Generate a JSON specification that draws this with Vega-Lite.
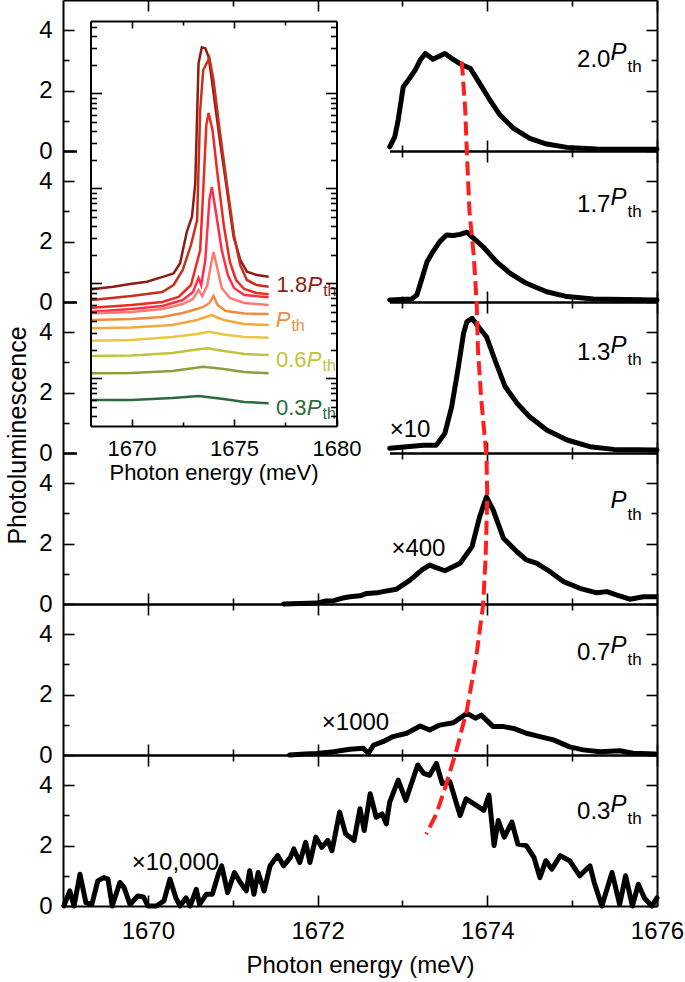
{
"$schema": "https://vega.github.io/schema/vega-lite/v6.json",
"width": 594, "height": 906, "autosize": "none",
"padding": {"left": 63, "top": 0, "right": 28, "bottom": 76},
"background": "white",
"config": {"view": {"stroke": null}, "font": "Liberation Sans",
  "axis": {"labelFont": "Liberation Sans", "titleFont": "Liberation Sans", "labelFontSize": 24, "titleFontSize": 24, "labelColor": "black", "titleColor": "black", "domainColor": "black", "tickColor": "black", "domainWidth": 2, "tickWidth": 1.6, "grid": false, "labelFlush": false, "labelOverlap": false, "titleFontWeight": "normal", "format": "d"}},
"datasets": {
 "mask": [{"x1": 1669.165, "x2": 1672.853, "y1": 13.6, "y2": 29.44}],
 "p20": [{"E":1672.85,"I":0.14},{"E":1672.91,"I":0.47},{"E":1672.95,"I":1.03},{"E":1673.01,"I":2.13},{"E":1673.07,"I":2.35},{"E":1673.15,"I":2.68},{"E":1673.21,"I":3.01},{"E":1673.27,"I":3.23},{"E":1673.36,"I":3.04},{"E":1673.5,"I":3.23},{"E":1673.58,"I":3.07},{"E":1673.7,"I":2.85},{"E":1673.8,"I":2.74},{"E":1673.91,"I":2.24},{"E":1674.03,"I":1.69},{"E":1674.15,"I":1.19},{"E":1674.31,"I":0.75},{"E":1674.5,"I":0.42},{"E":1674.7,"I":0.23},{"E":1674.94,"I":0.12},{"E":1675.29,"I":0.07},{"E":1676,"I":0.06}],
 "p17": [{"E":1672.85,"I":0.07},{"E":1673.11,"I":0.1},{"E":1673.17,"I":0.23},{"E":1673.23,"I":0.78},{"E":1673.29,"I":1.33},{"E":1673.36,"I":1.67},{"E":1673.44,"I":2.0},{"E":1673.52,"I":2.22},{"E":1673.6,"I":2.2},{"E":1673.68,"I":2.24},{"E":1673.76,"I":2.31},{"E":1673.84,"I":2.11},{"E":1673.95,"I":1.83},{"E":1674.11,"I":1.33},{"E":1674.27,"I":0.95},{"E":1674.46,"I":0.62},{"E":1674.7,"I":0.34},{"E":1674.94,"I":0.18},{"E":1675.25,"I":0.1},{"E":1676,"I":0.07}],
 "p13": [{"E":1672.85,"I":0.16},{"E":1673.05,"I":0.21},{"E":1673.25,"I":0.26},{"E":1673.4,"I":0.26},{"E":1673.5,"I":0.65},{"E":1673.58,"I":1.53},{"E":1673.66,"I":2.86},{"E":1673.72,"I":3.96},{"E":1673.76,"I":4.35},{"E":1673.82,"I":4.46},{"E":1673.91,"I":4.13},{"E":1673.99,"I":3.85},{"E":1674.09,"I":3.08},{"E":1674.21,"I":2.2},{"E":1674.35,"I":1.65},{"E":1674.5,"I":1.2},{"E":1674.7,"I":0.76},{"E":1674.94,"I":0.43},{"E":1675.21,"I":0.21},{"E":1675.49,"I":0.12},{"E":1676,"I":0.1}],
 "p10": [{"E":1671.6,"I":0.0},{"E":1671.79,"I":0.02},{"E":1671.99,"I":0.03},{"E":1672.1,"I":0.1},{"E":1672.19,"I":0.11},{"E":1672.3,"I":0.2},{"E":1672.38,"I":0.24},{"E":1672.5,"I":0.27},{"E":1672.58,"I":0.35},{"E":1672.7,"I":0.37},{"E":1672.77,"I":0.41},{"E":1672.93,"I":0.49},{"E":1673.09,"I":0.79},{"E":1673.23,"I":1.13},{"E":1673.32,"I":1.29},{"E":1673.5,"I":1.1},{"E":1673.68,"I":1.35},{"E":1673.82,"I":1.9},{"E":1673.91,"I":2.89},{"E":1673.99,"I":3.55},{"E":1674.07,"I":3.11},{"E":1674.19,"I":2.18},{"E":1674.35,"I":1.73},{"E":1674.46,"I":1.46},{"E":1674.58,"I":1.35},{"E":1674.74,"I":1.07},{"E":1674.9,"I":0.74},{"E":1675.09,"I":0.52},{"E":1675.29,"I":0.37},{"E":1675.41,"I":0.41},{"E":1675.52,"I":0.3},{"E":1675.68,"I":0.16},{"E":1675.84,"I":0.24},{"E":1675.98,"I":0.24}],
 "p07": [{"E":1671.67,"I":0.0},{"E":1671.85,"I":0.03},{"E":1671.99,"I":0.05},{"E":1672.19,"I":0.11},{"E":1672.38,"I":0.19},{"E":1672.54,"I":0.22},{"E":1672.6,"I":0.06},{"E":1672.66,"I":0.33},{"E":1672.77,"I":0.44},{"E":1672.89,"I":0.61},{"E":1673.05,"I":0.72},{"E":1673.21,"I":0.96},{"E":1673.32,"I":0.83},{"E":1673.44,"I":0.99},{"E":1673.6,"I":1.07},{"E":1673.76,"I":1.38},{"E":1673.86,"I":1.22},{"E":1673.93,"I":1.32},{"E":1674.07,"I":0.94},{"E":1674.19,"I":0.94},{"E":1674.31,"I":0.88},{"E":1674.46,"I":0.72},{"E":1674.62,"I":0.61},{"E":1674.78,"I":0.5},{"E":1674.97,"I":0.27},{"E":1675.13,"I":0.17},{"E":1675.33,"I":0.11},{"E":1675.56,"I":0.14},{"E":1675.72,"I":0.06},{"E":1675.98,"I":0.03}],
 "p03": [{"E":1669.01,"I":0},{"E":1669.08,"I":0.5},{"E":1669.13,"I":0},{"E":1669.2,"I":1.05},{"E":1669.27,"I":0.11},{"E":1669.34,"I":0.05},{"E":1669.41,"I":0.83},{"E":1669.48,"I":0.94},{"E":1669.53,"I":0.89},{"E":1669.58,"I":0},{"E":1669.67,"I":0.78},{"E":1669.72,"I":0.61},{"E":1669.79,"I":0.05},{"E":1669.88,"I":0.33},{"E":1669.95,"I":0.3},{"E":1670.0,"I":0},{"E":1670.1,"I":0},{"E":1670.19,"I":0.17},{"E":1670.26,"I":0.89},{"E":1670.33,"I":0.27},{"E":1670.38,"I":0},{"E":1670.45,"I":0.27},{"E":1670.5,"I":0},{"E":1670.57,"I":0.55},{"E":1670.61,"I":0.05},{"E":1670.69,"I":0.39},{"E":1670.76,"I":0.39},{"E":1670.83,"I":1.05},{"E":1670.87,"I":1.33},{"E":1670.94,"I":0.44},{"E":1671.02,"I":1.11},{"E":1671.09,"I":0.78},{"E":1671.16,"I":0.5},{"E":1671.2,"I":1.17},{"E":1671.25,"I":0.39},{"E":1671.3,"I":1.11},{"E":1671.37,"I":0.5},{"E":1671.44,"I":1.33},{"E":1671.53,"I":1.67},{"E":1671.6,"I":1.33},{"E":1671.68,"I":1.61},{"E":1671.72,"I":1.89},{"E":1671.79,"I":1.44},{"E":1671.86,"I":2.11},{"E":1671.91,"I":1.44},{"E":1671.98,"I":2.28},{"E":1672.05,"I":1.94},{"E":1672.12,"I":2.17},{"E":1672.17,"I":1.83},{"E":1672.26,"I":3.11},{"E":1672.33,"I":2.39},{"E":1672.43,"I":2.17},{"E":1672.5,"I":3.22},{"E":1672.55,"I":2.5},{"E":1672.62,"I":3.72},{"E":1672.69,"I":2.94},{"E":1672.76,"I":3.05},{"E":1672.81,"I":2.72},{"E":1672.85,"I":3.44},{"E":1672.95,"I":4.17},{"E":1673.04,"I":3.5},{"E":1673.18,"I":4.67},{"E":1673.25,"I":4.39},{"E":1673.32,"I":4.33},{"E":1673.4,"I":4.72},{"E":1673.47,"I":4.05},{"E":1673.56,"I":4.11},{"E":1673.68,"I":3.0},{"E":1673.75,"I":3.55},{"E":1673.87,"I":3.33},{"E":1673.96,"I":3.17},{"E":1674.02,"I":3.67},{"E":1674.08,"I":2.0},{"E":1674.13,"I":2.83},{"E":1674.2,"I":2.28},{"E":1674.29,"I":2.78},{"E":1674.36,"I":2.05},{"E":1674.46,"I":2.0},{"E":1674.55,"I":1.61},{"E":1674.62,"I":0.94},{"E":1674.69,"I":1.5},{"E":1674.76,"I":1.22},{"E":1674.86,"I":1.67},{"E":1674.97,"I":1.5},{"E":1675.09,"I":1.0},{"E":1675.21,"I":1.33},{"E":1675.26,"I":0.78},{"E":1675.35,"I":0},{"E":1675.47,"I":1.11},{"E":1675.56,"I":0.05},{"E":1675.63,"I":1.0},{"E":1675.71,"I":0},{"E":1675.78,"I":0.72},{"E":1675.85,"I":0.27},{"E":1675.94,"I":0},{"E":1676.0,"I":0.27}],
 "red": [{"E":1673.70,"Y":27.96},{"E":1673.74,"Y":26.36},{"E":1673.76,"Y":24.9},{"E":1673.79,"Y":22.99},{"E":1673.84,"Y":21.56},{"E":1673.875,"Y":19.95},{"E":1673.89,"Y":18.41},{"E":1673.93,"Y":16.75},{"E":1673.99,"Y":14.88},{"E":1674.0,"Y":13.55},{"E":1673.98,"Y":11.5},{"E":1673.95,"Y":9.95},{"E":1673.87,"Y":8.25},{"E":1673.76,"Y":6.49},{"E":1673.64,"Y":5.2},{"E":1673.51,"Y":3.97},{"E":1673.4,"Y":3.05},{"E":1673.28,"Y":2.38}],
 "plabels": [{"panel":1,"pre":"2.0","E":1675.64,"I":3.0},{"panel":2,"pre":"1.7","E":1675.64,"I":3.2},{"panel":3,"pre":"1.3","E":1675.64,"I":3.3},{"panel":4,"pre":"","E":1675.64,"I":3.17},{"panel":5,"pre":"0.7","E":1675.64,"I":3.37},{"panel":6,"pre":"0.3","E":1675.64,"I":3.11}],
 "mult": [{"panel":3,"text":"×10","E":1672.85,"I":0.76},{"panel":4,"text":"×400","E":1672.87,"I":1.81},{"panel":5,"text":"×1000","E":1672.05,"I":1.05},{"panel":6,"text":"×10,000","E":1669.81,"I":1.44}],
 "ilabels": [{"level":"1.8","pre":"1.8","E":1679.3,"L":0.984},{"level":"1.0","pre":"","E":1677.75,"L":0.616},{"level":"0.6","pre":"0.6","E":1679.27,"L":0.195},{"level":"0.3","pre":"0.3","E":1679.27,"L":-0.314}],
 "inset": [
  {"level":"1.8","E":1668.06,"L":0.939},{"level":"1.8","E":1669.11,"L":0.966},{"level":"1.8","E":1669.93,"L":0.995},{"level":"1.8","E":1670.75,"L":1.019},{"level":"1.8","E":1671.56,"L":1.072},{"level":"1.8","E":1672.05,"L":1.107},{"level":"1.8","E":1672.37,"L":1.213},{"level":"1.8","E":1672.7,"L":1.545},{"level":"1.8","E":1672.95,"L":1.703},{"level":"1.8","E":1673.11,"L":2.055},{"level":"1.8","E":1673.27,"L":3.318},{"level":"1.8","E":1673.43,"L":3.486},{"level":"1.8","E":1673.6,"L":3.476},{"level":"1.8","E":1673.76,"L":3.387},{"level":"1.8","E":1673.92,"L":3.142},{"level":"1.8","E":1674.09,"L":2.861},{"level":"1.8","E":1674.33,"L":2.476},{"level":"1.8","E":1674.66,"L":1.984},{"level":"1.8","E":1674.98,"L":1.493},{"level":"1.8","E":1675.31,"L":1.247},{"level":"1.8","E":1675.63,"L":1.124},{"level":"1.8","E":1676.12,"L":1.089},{"level":"1.8","E":1676.69,"L":1.072},
  {"level":"1.7","E":1668.06,"L":0.826},{"level":"1.7","E":1670,"L":0.868},{"level":"1.7","E":1671.5,"L":0.911},{"level":"1.7","E":1672.05,"L":0.984},{"level":"1.7","E":1672.5,"L":1.142},{"level":"1.7","E":1672.9,"L":1.405},{"level":"1.7","E":1673.2,"L":1.668},{"level":"1.7","E":1673.35,"L":2.826},{"level":"1.7","E":1673.5,"L":3.247},{"level":"1.7","E":1673.8,"L":3.374},{"level":"1.7","E":1674.0,"L":3.142},{"level":"1.7","E":1674.3,"L":2.616},{"level":"1.7","E":1674.66,"L":2.037},{"level":"1.7","E":1675.0,"L":1.511},{"level":"1.7","E":1675.3,"L":1.195},{"level":"1.7","E":1675.63,"L":1.037},{"level":"1.7","E":1676.1,"L":0.984},{"level":"1.7","E":1676.69,"L":0.966},
  {"level":"1.5","E":1668.06,"L":0.745},{"level":"1.5","E":1670,"L":0.774},{"level":"1.5","E":1671.5,"L":0.805},{"level":"1.5","E":1672.3,"L":0.858},{"level":"1.5","E":1672.9,"L":0.984},{"level":"1.5","E":1673.2,"L":1.226},{"level":"1.5","E":1673.35,"L":1.353},{"level":"1.5","E":1673.5,"L":1.984},{"level":"1.5","E":1673.65,"L":2.668},{"level":"1.5","E":1673.76,"L":2.795},{"level":"1.5","E":1673.95,"L":2.616},{"level":"1.5","E":1674.2,"L":2.142},{"level":"1.5","E":1674.5,"L":1.616},{"level":"1.5","E":1674.8,"L":1.226},{"level":"1.5","E":1675.1,"L":1.037},{"level":"1.5","E":1675.5,"L":0.942},{"level":"1.5","E":1676.1,"L":0.9},{"level":"1.5","E":1676.69,"L":0.886},
  {"level":"1.3","E":1668.06,"L":0.703},{"level":"1.3","E":1670,"L":0.732},{"level":"1.3","E":1671.5,"L":0.763},{"level":"1.3","E":1672.5,"L":0.826},{"level":"1.3","E":1673.0,"L":0.911},{"level":"1.3","E":1673.27,"L":1.058},{"level":"1.3","E":1673.4,"L":0.984},{"level":"1.3","E":1673.6,"L":1.247},{"level":"1.3","E":1673.8,"L":1.879},{"level":"1.3","E":1673.92,"L":2.016},{"level":"1.3","E":1674.1,"L":1.774},{"level":"1.3","E":1674.4,"L":1.353},{"level":"1.3","E":1674.7,"L":1.089},{"level":"1.3","E":1675.0,"L":0.953},{"level":"1.3","E":1675.5,"L":0.879},{"level":"1.3","E":1676.69,"L":0.855},
  {"level":"1.1","E":1668.06,"L":0.686},{"level":"1.1","E":1670,"L":0.7},{"level":"1.1","E":1671.5,"L":0.732},{"level":"1.1","E":1672.5,"L":0.784},{"level":"1.1","E":1673.0,"L":0.837},{"level":"1.1","E":1673.27,"L":0.932},{"level":"1.1","E":1673.45,"L":0.868},{"level":"1.1","E":1673.7,"L":0.984},{"level":"1.1","E":1673.9,"L":1.226},{"level":"1.1","E":1674.0,"L":1.332},{"level":"1.1","E":1674.15,"L":1.195},{"level":"1.1","E":1674.4,"L":0.953},{"level":"1.1","E":1674.8,"L":0.847},{"level":"1.1","E":1675.5,"L":0.795},{"level":"1.1","E":1676.69,"L":0.774},
  {"level":"1.0","E":1668.06,"L":0.616},{"level":"1.0","E":1670,"L":0.626},{"level":"1.0","E":1671.5,"L":0.647},{"level":"1.0","E":1672.5,"L":0.689},{"level":"1.0","E":1673.2,"L":0.732},{"level":"1.0","E":1673.5,"L":0.753},{"level":"1.0","E":1673.8,"L":0.795},{"level":"1.0","E":1674.0,"L":0.868},{"level":"1.0","E":1674.2,"L":0.774},{"level":"1.0","E":1674.6,"L":0.711},{"level":"1.0","E":1675.5,"L":0.684},{"level":"1.0","E":1676.69,"L":0.679},
  {"level":"0.85","E":1668.06,"L":0.528},{"level":"0.85","E":1670,"L":0.537},{"level":"0.85","E":1672,"L":0.563},{"level":"0.85","E":1673.2,"L":0.616},{"level":"0.85","E":1673.9,"L":0.668},{"level":"0.85","E":1674.5,"L":0.616},{"level":"0.85","E":1675.5,"L":0.574},{"level":"0.85","E":1676.69,"L":0.563},
  {"level":"0.7","E":1668.06,"L":0.398},{"level":"0.7","E":1670,"L":0.405},{"level":"0.7","E":1672,"L":0.437},{"level":"0.7","E":1673.2,"L":0.468},{"level":"0.7","E":1673.8,"L":0.493},{"level":"0.7","E":1674.5,"L":0.463},{"level":"0.7","E":1675.5,"L":0.437},{"level":"0.7","E":1676.69,"L":0.429},
  {"level":"0.6","E":1668.06,"L":0.237},{"level":"0.6","E":1670,"L":0.242},{"level":"0.6","E":1672,"L":0.268},{"level":"0.6","E":1673,"L":0.3},{"level":"0.6","E":1673.7,"L":0.318},{"level":"0.6","E":1674.5,"L":0.289},{"level":"0.6","E":1675.5,"L":0.258},{"level":"0.6","E":1676.69,"L":0.247},
  {"level":"0.45","E":1668.06,"L":0.055},{"level":"0.45","E":1670,"L":0.058},{"level":"0.45","E":1672,"L":0.079},{"level":"0.45","E":1673.5,"L":0.124},{"level":"0.45","E":1674.5,"L":0.1},{"level":"0.45","E":1675.5,"L":0.068},{"level":"0.45","E":1676.69,"L":0.055},
  {"level":"0.3","E":1668.06,"L":-0.226},{"level":"0.3","E":1670,"L":-0.226},{"level":"0.3","E":1672,"L":-0.205},{"level":"0.3","E":1673.27,"L":-0.184},{"level":"0.3","E":1674.5,"L":-0.216},{"level":"0.3","E":1675.5,"L":-0.247},{"level":"0.3","E":1676.69,"L":-0.261}
 ]
},
"layer": [
 {"data": {"name": "mask"}, "mark": {"type": "rect", "fill": "white", "stroke": null},
  "encoding": {"x": {"field": "x1", "type": "quantitative", "scale": {"domain": [1669, 1676], "nice": false, "zero": false}, "axis": null}, "x2": {"field": "x2"},
   "y": {"field": "y1", "type": "quantitative", "scale": {"domain": [0, 30], "nice": false, "zero": false}, "axis": null}, "y2": {"field": "y2"}}},

 {"data": {"name": "p20"}, "mark": {"type": "line", "color": "black", "strokeWidth": 5, "strokeJoin": "round", "strokeCap": "round"},
  "encoding": {"x": {"field": "E", "type": "quantitative", "scale": {"domain": [1669, 1676], "nice": false, "zero": false}, "axis": {"orient": "bottom", "offset": -755, "values": [1670,1671,1672,1673,1674,1675,1676], "labels": false, "title": null, "tickSize": {"condition": {"test": "datum.value % 2 == 0", "value": -11}, "value": -6}, "zindex": 0}},
   "y": {"field": "I", "type": "quantitative", "scale": {"domain": [0, 5], "range": [151, 0], "nice": false, "zero": false}, "axis": {"orient": "left", "values": [0,1,2,3,4], "labelExpr": "datum.value % 2 == 0 ? datum.label : ''", "labelPadding": 22, "title": null, "tickSize": {"condition": {"test": "datum.value % 2 == 0", "value": -11}, "value": -6}, "zindex": 0}}}},
 {"data": {"name": "p17"}, "mark": {"type": "line", "color": "black", "strokeWidth": 5, "strokeJoin": "round", "strokeCap": "round"},
  "encoding": {"x": {"field": "E", "type": "quantitative", "scale": {"domain": [1669, 1676], "nice": false, "zero": false}, "axis": {"orient": "bottom", "offset": -604, "values": [1670,1671,1672,1673,1674,1675,1676], "labels": false, "title": null, "tickSize": {"condition": {"test": "datum.value % 2 == 0", "value": -11}, "value": -6}, "zindex": 0}},
   "y": {"field": "I", "type": "quantitative", "scale": {"domain": [0, 5], "range": [302, 151], "nice": false, "zero": false}, "axis": {"orient": "left", "values": [0,1,2,3,4], "labelExpr": "datum.value % 2 == 0 ? datum.label : ''", "labelPadding": 22, "title": null, "tickSize": {"condition": {"test": "datum.value % 2 == 0", "value": -11}, "value": -6}, "zindex": 0}}}},
 {"data": {"name": "p13"}, "mark": {"type": "line", "color": "black", "strokeWidth": 5, "strokeJoin": "round", "strokeCap": "round"},
  "encoding": {"x": {"field": "E", "type": "quantitative", "scale": {"domain": [1669, 1676], "nice": false, "zero": false}, "axis": {"orient": "bottom", "offset": -453, "values": [1670,1671,1672,1673,1674,1675,1676], "labels": false, "title": null, "tickSize": {"condition": {"test": "datum.value % 2 == 0", "value": -11}, "value": -6}, "zindex": 0}},
   "y": {"field": "I", "type": "quantitative", "scale": {"domain": [0, 5], "range": [453, 302], "nice": false, "zero": false}, "axis": {"orient": "left", "values": [0,1,2,3,4], "labelExpr": "datum.value % 2 == 0 ? datum.label : ''", "labelPadding": 22, "title": null, "tickSize": {"condition": {"test": "datum.value % 2 == 0", "value": -11}, "value": -6}, "zindex": 0}}}},
 {"data": {"name": "p10"}, "mark": {"type": "line", "color": "black", "strokeWidth": 5, "strokeJoin": "round", "strokeCap": "round"},
  "encoding": {"x": {"field": "E", "type": "quantitative", "scale": {"domain": [1669, 1676], "nice": false, "zero": false}, "axis": {"orient": "bottom", "offset": -302, "values": [1670,1671,1672,1673,1674,1675,1676], "labels": false, "title": null, "tickSize": {"condition": {"test": "datum.value % 2 == 0", "value": -11}, "value": -6}, "zindex": 0}},
   "y": {"field": "I", "type": "quantitative", "scale": {"domain": [0, 5], "range": [604, 453], "nice": false, "zero": false}, "axis": {"orient": "left", "values": [0,1,2,3,4], "labelExpr": "datum.value % 2 == 0 ? datum.label : ''", "labelPadding": 22, "title": null, "tickSize": {"condition": {"test": "datum.value % 2 == 0", "value": -11}, "value": -6}, "zindex": 0}}}},
 {"data": {"name": "p07"}, "mark": {"type": "line", "color": "black", "strokeWidth": 5, "strokeJoin": "round", "strokeCap": "round"},
  "encoding": {"x": {"field": "E", "type": "quantitative", "scale": {"domain": [1669, 1676], "nice": false, "zero": false}, "axis": {"orient": "bottom", "offset": -151, "values": [1670,1671,1672,1673,1674,1675,1676], "labels": false, "title": null, "tickSize": {"condition": {"test": "datum.value % 2 == 0", "value": -11}, "value": -6}, "zindex": 0}},
   "y": {"field": "I", "type": "quantitative", "scale": {"domain": [0, 5], "range": [755, 604], "nice": false, "zero": false}, "axis": {"orient": "left", "values": [0,1,2,3,4], "labelExpr": "datum.value % 2 == 0 ? datum.label : ''", "labelPadding": 22, "title": null, "tickSize": {"condition": {"test": "datum.value % 2 == 0", "value": -11}, "value": -6}, "zindex": 0}}}},
 {"data": {"name": "p03"}, "mark": {"type": "line", "color": "black", "strokeWidth": 5, "strokeJoin": "round", "strokeCap": "round"},
  "encoding": {"x": {"field": "E", "type": "quantitative", "scale": {"domain": [1669, 1676], "nice": false, "zero": false}, "axis": {"orient": "bottom", "offset": 0, "values": [1670,1671,1672,1673,1674,1675,1676], "labelExpr": "datum.value % 2 == 0 ? datum.label : ''", "labelPadding": 24, "title": "Photon energy (meV)", "titlePadding": 5, "tickSize": {"condition": {"test": "datum.value % 2 == 0", "value": -11}, "value": -6}, "zindex": 0}},
   "y": {"field": "I", "type": "quantitative", "scale": {"domain": [0, 5], "range": [906, 755], "nice": false, "zero": false}, "axis": {"orient": "left", "values": [0,1,2,3,4], "labelExpr": "datum.value % 2 == 0 ? datum.label : ''", "labelPadding": 22, "title": null, "tickSize": {"condition": {"test": "datum.value % 2 == 0", "value": -11}, "value": -6}, "zindex": 0}}}},

 {"data": {"name": "plabels"}, "transform": [{"filter": "datum.panel == 1"}], "mark": {"type": "text", "fontStyle": "italic", "fontSize": 24, "align": "right", "baseline": "alphabetic", "color": "black"},
  "encoding": {"x": {"field": "E", "type": "quantitative", "scale": {"domain": [1669, 1676], "nice": false, "zero": false}, "axis": {"orient": "top", "offset": 0, "values": [1670,1671,1672,1673,1674,1675,1676], "labels": false, "title": null, "tickSize": {"condition": {"test": "datum.value % 2 == 0", "value": -11}, "value": -6}, "zindex": 0}},
   "y": {"field": "I", "type": "quantitative", "scale": {"domain": [0, 5], "range": [151, 0], "nice": false, "zero": false}, "axis": {"orient": "right", "values": [0,1,2,3,4], "labels": false, "title": null, "tickSize": {"condition": {"test": "datum.value % 2 == 0", "value": -11}, "value": -6}, "zindex": 0}},
   "text": {"value": "P"}}},
 {"data": {"name": "plabels"}, "transform": [{"filter": "datum.panel == 2"}], "mark": {"type": "text", "fontStyle": "italic", "fontSize": 24, "align": "right", "baseline": "alphabetic", "color": "black"},
  "encoding": {"x": {"field": "E", "type": "quantitative", "scale": {"domain": [1669, 1676], "nice": false, "zero": false}, "axis": {"orient": "top", "offset": -151, "values": [1670,1671,1672,1673,1674,1675,1676], "labels": false, "title": null, "tickSize": {"condition": {"test": "datum.value % 2 == 0", "value": -11}, "value": -6}, "zindex": 0}},
   "y": {"field": "I", "type": "quantitative", "scale": {"domain": [0, 5], "range": [302, 151], "nice": false, "zero": false}, "axis": {"orient": "right", "values": [0,1,2,3,4], "labels": false, "title": null, "tickSize": {"condition": {"test": "datum.value % 2 == 0", "value": -11}, "value": -6}, "zindex": 0}},
   "text": {"value": "P"}}},
 {"data": {"name": "plabels"}, "transform": [{"filter": "datum.panel == 3"}], "mark": {"type": "text", "fontStyle": "italic", "fontSize": 24, "align": "right", "baseline": "alphabetic", "color": "black"},
  "encoding": {"x": {"field": "E", "type": "quantitative", "scale": {"domain": [1669, 1676], "nice": false, "zero": false}, "axis": {"orient": "top", "offset": -302, "values": [1670,1671,1672,1673,1674,1675,1676], "labels": false, "title": null, "tickSize": {"condition": {"test": "datum.value % 2 == 0", "value": -11}, "value": -6}, "zindex": 0}},
   "y": {"field": "I", "type": "quantitative", "scale": {"domain": [0, 5], "range": [453, 302], "nice": false, "zero": false}, "axis": {"orient": "right", "values": [0,1,2,3,4], "labels": false, "title": null, "tickSize": {"condition": {"test": "datum.value % 2 == 0", "value": -11}, "value": -6}, "zindex": 0}},
   "text": {"value": "P"}}},
 {"data": {"name": "plabels"}, "transform": [{"filter": "datum.panel == 4"}], "mark": {"type": "text", "fontStyle": "italic", "fontSize": 24, "align": "right", "baseline": "alphabetic", "color": "black"},
  "encoding": {"x": {"field": "E", "type": "quantitative", "scale": {"domain": [1669, 1676], "nice": false, "zero": false}, "axis": {"orient": "top", "offset": -453, "values": [1670,1671,1672,1673,1674,1675,1676], "labels": false, "title": null, "tickSize": {"condition": {"test": "datum.value % 2 == 0", "value": -11}, "value": -6}, "zindex": 0}},
   "y": {"field": "I", "type": "quantitative", "scale": {"domain": [0, 5], "range": [604, 453], "nice": false, "zero": false}, "axis": {"orient": "right", "values": [0,1,2,3,4], "labels": false, "title": null, "tickSize": {"condition": {"test": "datum.value % 2 == 0", "value": -11}, "value": -6}, "zindex": 0}},
   "text": {"value": "P"}}},
 {"data": {"name": "plabels"}, "transform": [{"filter": "datum.panel == 5"}], "mark": {"type": "text", "fontStyle": "italic", "fontSize": 24, "align": "right", "baseline": "alphabetic", "color": "black"},
  "encoding": {"x": {"field": "E", "type": "quantitative", "scale": {"domain": [1669, 1676], "nice": false, "zero": false}, "axis": {"orient": "top", "offset": -604, "values": [1670,1671,1672,1673,1674,1675,1676], "labels": false, "title": null, "tickSize": {"condition": {"test": "datum.value % 2 == 0", "value": -11}, "value": -6}, "zindex": 0}},
   "y": {"field": "I", "type": "quantitative", "scale": {"domain": [0, 5], "range": [755, 604], "nice": false, "zero": false}, "axis": {"orient": "right", "values": [0,1,2,3,4], "labels": false, "title": null, "tickSize": {"condition": {"test": "datum.value % 2 == 0", "value": -11}, "value": -6}, "zindex": 0}},
   "text": {"value": "P"}}},
 {"data": {"name": "plabels"}, "transform": [{"filter": "datum.panel == 6"}], "mark": {"type": "text", "fontStyle": "italic", "fontSize": 24, "align": "right", "baseline": "alphabetic", "color": "black"},
  "encoding": {"x": {"field": "E", "type": "quantitative", "scale": {"domain": [1669, 1676], "nice": false, "zero": false}, "axis": {"orient": "top", "offset": -755, "values": [1670,1671,1672,1673,1674,1675,1676], "labels": false, "title": null, "tickSize": {"condition": {"test": "datum.value % 2 == 0", "value": -11}, "value": -6}, "zindex": 0}},
   "y": {"field": "I", "type": "quantitative", "scale": {"domain": [0, 5], "range": [906, 755], "nice": false, "zero": false}, "axis": {"orient": "right", "values": [0,1,2,3,4], "labels": false, "title": null, "tickSize": {"condition": {"test": "datum.value % 2 == 0", "value": -11}, "value": -6}, "zindex": 0}},
   "text": {"value": "P"}}},

 {"data": {"name": "plabels"}, "transform": [{"filter": "datum.panel == 1"}], "mark": {"type": "text", "fontSize": 24, "align": "right", "dx": -16, "color": "black"},
  "encoding": {"x": {"field": "E", "type": "quantitative", "scale": {"domain": [1669, 1676], "nice": false, "zero": false}, "axis": null}, "y": {"field": "I", "type": "quantitative", "scale": {"domain": [0, 5], "range": [151, 0], "nice": false, "zero": false}, "axis": null}, "text": {"field": "pre"}}},
 {"data": {"name": "plabels"}, "transform": [{"filter": "datum.panel == 2"}], "mark": {"type": "text", "fontSize": 24, "align": "right", "dx": -16, "color": "black"},
  "encoding": {"x": {"field": "E", "type": "quantitative", "scale": {"domain": [1669, 1676], "nice": false, "zero": false}, "axis": null}, "y": {"field": "I", "type": "quantitative", "scale": {"domain": [0, 5], "range": [302, 151], "nice": false, "zero": false}, "axis": null}, "text": {"field": "pre"}}},
 {"data": {"name": "plabels"}, "transform": [{"filter": "datum.panel == 3"}], "mark": {"type": "text", "fontSize": 24, "align": "right", "dx": -16, "color": "black"},
  "encoding": {"x": {"field": "E", "type": "quantitative", "scale": {"domain": [1669, 1676], "nice": false, "zero": false}, "axis": null}, "y": {"field": "I", "type": "quantitative", "scale": {"domain": [0, 5], "range": [453, 302], "nice": false, "zero": false}, "axis": null}, "text": {"field": "pre"}}},
 {"data": {"name": "plabels"}, "transform": [{"filter": "datum.panel == 5"}], "mark": {"type": "text", "fontSize": 24, "align": "right", "dx": -16, "color": "black"},
  "encoding": {"x": {"field": "E", "type": "quantitative", "scale": {"domain": [1669, 1676], "nice": false, "zero": false}, "axis": null}, "y": {"field": "I", "type": "quantitative", "scale": {"domain": [0, 5], "range": [755, 604], "nice": false, "zero": false}, "axis": null}, "text": {"field": "pre"}}},
 {"data": {"name": "plabels"}, "transform": [{"filter": "datum.panel == 6"}], "mark": {"type": "text", "fontSize": 24, "align": "right", "dx": -16, "color": "black"},
  "encoding": {"x": {"field": "E", "type": "quantitative", "scale": {"domain": [1669, 1676], "nice": false, "zero": false}, "axis": null}, "y": {"field": "I", "type": "quantitative", "scale": {"domain": [0, 5], "range": [906, 755], "nice": false, "zero": false}, "axis": null}, "text": {"field": "pre"}}},

 {"data": {"name": "plabels"}, "transform": [{"filter": "datum.panel == 1"}], "mark": {"type": "text", "fontSize": 17, "align": "left", "dx": 1, "dy": 7, "color": "black"},
  "encoding": {"x": {"field": "E", "type": "quantitative", "scale": {"domain": [1669, 1676], "nice": false, "zero": false}, "axis": null}, "y": {"field": "I", "type": "quantitative", "scale": {"domain": [0, 5], "range": [151, 0], "nice": false, "zero": false}, "axis": null}, "text": {"value": "th"}}},
 {"data": {"name": "plabels"}, "transform": [{"filter": "datum.panel == 2"}], "mark": {"type": "text", "fontSize": 17, "align": "left", "dx": 1, "dy": 7, "color": "black"},
  "encoding": {"x": {"field": "E", "type": "quantitative", "scale": {"domain": [1669, 1676], "nice": false, "zero": false}, "axis": null}, "y": {"field": "I", "type": "quantitative", "scale": {"domain": [0, 5], "range": [302, 151], "nice": false, "zero": false}, "axis": null}, "text": {"value": "th"}}},
 {"data": {"name": "plabels"}, "transform": [{"filter": "datum.panel == 3"}], "mark": {"type": "text", "fontSize": 17, "align": "left", "dx": 1, "dy": 7, "color": "black"},
  "encoding": {"x": {"field": "E", "type": "quantitative", "scale": {"domain": [1669, 1676], "nice": false, "zero": false}, "axis": null}, "y": {"field": "I", "type": "quantitative", "scale": {"domain": [0, 5], "range": [453, 302], "nice": false, "zero": false}, "axis": null}, "text": {"value": "th"}}},
 {"data": {"name": "plabels"}, "transform": [{"filter": "datum.panel == 4"}], "mark": {"type": "text", "fontSize": 17, "align": "left", "dx": 1, "dy": 7, "color": "black"},
  "encoding": {"x": {"field": "E", "type": "quantitative", "scale": {"domain": [1669, 1676], "nice": false, "zero": false}, "axis": null}, "y": {"field": "I", "type": "quantitative", "scale": {"domain": [0, 5], "range": [604, 453], "nice": false, "zero": false}, "axis": null}, "text": {"value": "th"}}},
 {"data": {"name": "plabels"}, "transform": [{"filter": "datum.panel == 5"}], "mark": {"type": "text", "fontSize": 17, "align": "left", "dx": 1, "dy": 7, "color": "black"},
  "encoding": {"x": {"field": "E", "type": "quantitative", "scale": {"domain": [1669, 1676], "nice": false, "zero": false}, "axis": null}, "y": {"field": "I", "type": "quantitative", "scale": {"domain": [0, 5], "range": [755, 604], "nice": false, "zero": false}, "axis": null}, "text": {"value": "th"}}},
 {"data": {"name": "plabels"}, "transform": [{"filter": "datum.panel == 6"}], "mark": {"type": "text", "fontSize": 17, "align": "left", "dx": 1, "dy": 7, "color": "black"},
  "encoding": {"x": {"field": "E", "type": "quantitative", "scale": {"domain": [1669, 1676], "nice": false, "zero": false}, "axis": null}, "y": {"field": "I", "type": "quantitative", "scale": {"domain": [0, 5], "range": [906, 755], "nice": false, "zero": false}, "axis": null}, "text": {"value": "th"}}},

 {"data": {"name": "mult"}, "transform": [{"filter": "datum.panel == 3"}], "mark": {"type": "text", "fontSize": 24, "align": "left", "color": "black"},
  "encoding": {"x": {"field": "E", "type": "quantitative", "scale": {"domain": [1669, 1676], "nice": false, "zero": false}, "axis": null}, "y": {"field": "I", "type": "quantitative", "scale": {"domain": [0, 5], "range": [453, 302], "nice": false, "zero": false}, "axis": null}, "text": {"field": "text"}}},
 {"data": {"name": "mult"}, "transform": [{"filter": "datum.panel == 4"}], "mark": {"type": "text", "fontSize": 24, "align": "left", "color": "black"},
  "encoding": {"x": {"field": "E", "type": "quantitative", "scale": {"domain": [1669, 1676], "nice": false, "zero": false}, "axis": null}, "y": {"field": "I", "type": "quantitative", "scale": {"domain": [0, 5], "range": [604, 453], "nice": false, "zero": false}, "axis": null}, "text": {"field": "text"}}},
 {"data": {"name": "mult"}, "transform": [{"filter": "datum.panel == 5"}], "mark": {"type": "text", "fontSize": 24, "align": "left", "color": "black"},
  "encoding": {"x": {"field": "E", "type": "quantitative", "scale": {"domain": [1669, 1676], "nice": false, "zero": false}, "axis": null}, "y": {"field": "I", "type": "quantitative", "scale": {"domain": [0, 5], "range": [755, 604], "nice": false, "zero": false}, "axis": null}, "text": {"field": "text"}}},
 {"data": {"name": "mult"}, "transform": [{"filter": "datum.panel == 6"}], "mark": {"type": "text", "fontSize": 24, "align": "left", "color": "black"},
  "encoding": {"x": {"field": "E", "type": "quantitative", "scale": {"domain": [1669, 1676], "nice": false, "zero": false}, "axis": null}, "y": {"field": "I", "type": "quantitative", "scale": {"domain": [0, 5], "range": [906, 755], "nice": false, "zero": false}, "axis": null}, "text": {"field": "text"}}},

 {"data": {"name": "inset"}, "mark": {"type": "line", "strokeWidth": 2.5},
  "encoding": {"x": {"field": "E", "type": "quantitative", "scale": {"domain": [1668, 1680], "range": [27.5, 273.5], "nice": false, "zero": false},
     "axis": {"orient": "bottom", "offset": -480, "values": [1670, 1672.5, 1675, 1677.5, 1680], "labelExpr": "datum.value % 5 == 0 ? datum.label : ''", "labelFontSize": 22, "labelPadding": 19, "tickSize": {"condition": {"test": "datum.value % 5 == 0", "value": -7}, "value": -4}, "title": "Photon energy (meV)", "titleFontSize": 22, "titlePadding": 0, "zindex": 1}},
   "y": {"field": "L", "type": "quantitative", "scale": {"domain": [-0.5, 3.763], "range": [426, 21], "nice": false, "zero": false},
     "axis": {"orient": "left", "offset": -27.5, "values": [-0.398,-0.301,-0.222,-0.155,-0.097,-0.046,0,0.301,0.477,0.602,0.699,0.778,0.845,0.903,0.954,1,1.301,1.477,1.602,1.699,1.778,1.845,1.903,1.954,2,2.301,2.477,2.602,2.699,2.778,2.845,2.903,2.954,3,3.301,3.477,3.602,3.699], "labels": false, "title": null, "tickSize": {"condition": {"test": "datum.value == round(datum.value)", "value": -11}, "value": -6}, "zindex": 1}},
   "color": {"field": "level", "type": "nominal", "scale": {"domain": ["0.3","0.45","0.6","0.7","0.85","1.0","1.1","1.3","1.5","1.7","1.8"], "range": ["#2b6a3c","#8a9e3e","#c3c23c","#ebc63e","#f3a93a","#f28a3e","#ff7a6e","#ff2e4a","#ee2a1e","#c8301e","#8e1c12"]}, "legend": null}}},
 {"data": {"name": "ilabels"}, "mark": {"type": "text", "fontSize": 22, "align": "right", "dx": -15},
  "encoding": {"x": {"field": "E", "type": "quantitative", "scale": {"domain": [1668, 1680], "range": [27.5, 273.5], "nice": false, "zero": false},
     "axis": {"orient": "top", "offset": -21, "values": [1670, 1672.5, 1675, 1677.5], "labels": false, "title": null, "tickSize": {"condition": {"test": "datum.value % 5 == 0", "value": -7}, "value": -4}, "zindex": 1}},
   "y": {"field": "L", "type": "quantitative", "scale": {"domain": [-0.5, 3.763], "range": [426, 21], "nice": false, "zero": false},
     "axis": {"orient": "right", "offset": -320.5, "values": [-0.398,-0.301,-0.222,-0.155,-0.097,-0.046,0,0.301,0.477,0.602,0.699,0.778,0.845,0.903,0.954,1,1.301,1.477,1.602,1.699,1.778,1.845,1.903,1.954,2,2.301,2.477,2.602,2.699,2.778,2.845,2.903,2.954,3,3.301,3.477,3.602,3.699], "labels": false, "title": null, "tickSize": {"condition": {"test": "datum.value == round(datum.value)", "value": -11}, "value": -6}, "zindex": 1}},
   "color": {"field": "level", "type": "nominal", "legend": null},
   "text": {"field": "pre"}}},
 {"data": {"name": "ilabels"}, "mark": {"type": "text", "fontSize": 22, "fontStyle": "italic", "align": "right"},
  "encoding": {"x": {"field": "E", "type": "quantitative", "scale": {"domain": [1668, 1680], "range": [27.5, 273.5], "nice": false, "zero": false}, "axis": null},
   "y": {"field": "L", "type": "quantitative", "scale": {"domain": [-0.5, 3.763], "range": [426, 21], "nice": false, "zero": false}, "axis": null},
   "color": {"field": "level", "type": "nominal", "legend": null},
   "text": {"value": "P"}}},
 {"data": {"name": "ilabels"}, "mark": {"type": "text", "fontSize": 16, "align": "left", "dx": 1, "dy": 6},
  "encoding": {"x": {"field": "E", "type": "quantitative", "scale": {"domain": [1668, 1680], "range": [27.5, 273.5], "nice": false, "zero": false}, "axis": null},
   "y": {"field": "L", "type": "quantitative", "scale": {"domain": [-0.5, 3.763], "range": [426, 21], "nice": false, "zero": false}, "axis": null},
   "color": {"field": "level", "type": "nominal", "legend": null},
   "text": {"value": "th"}}},

 {"data": {"name": "red"}, "mark": {"type": "line", "color": "#ff1f1f", "strokeWidth": 4, "strokeDash": [14, 6]},
  "encoding": {"x": {"field": "E", "type": "quantitative", "scale": {"domain": [1669, 1676], "nice": false, "zero": false}, "axis": null},
   "y": {"field": "Y", "type": "quantitative", "scale": {"domain": [0, 30], "nice": false, "zero": false}, "axis": {"orient": "left", "title": "Photoluminescence", "titleFontSize": 25, "titlePadding": 33, "titleY": 435, "labels": false, "ticks": false, "domain": false, "zindex": 0}},
   "order": {"field": "Y", "sort": "descending"}}}
],
"resolve": {"scale": {"x": "independent", "y": "independent"}, "axis": {"x": "independent", "y": "independent"}}
}
